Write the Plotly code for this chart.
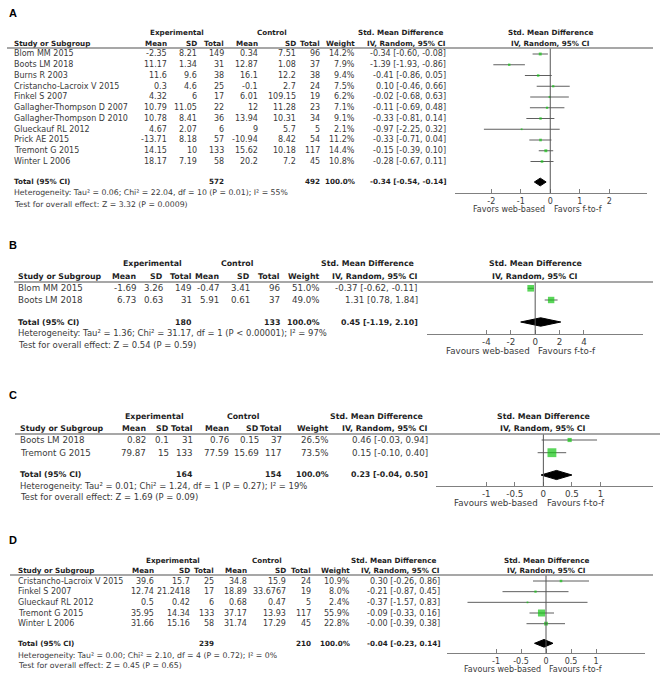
import plotly.graph_objects as go

W, H = 669, 679

# ---------------- DATA ----------------
A_study = ["Blom MM 2015", "Boots LM 2018", "Burns R 2003", "Cristancho-Lacroix V 2015", "Finkel S 2007",
           "Gallagher-Thompson D 2007", "Gallagher-Thompson D 2010", "Glueckauf RL 2012", "Prick AE 2015",
           "Tremont G 2015", "Winter L 2006"]
A_exp_mean = [-2.35, 11.17, 11.6, 0.3, 4.32, 10.79, 10.78, 4.67, -13.71, 14.15, 18.17]
A_exp_sd = [8.21, 1.34, 9.6, 4.6, 6, 11.05, 8.41, 2.07, 8.18, 10, 7.19]
A_exp_n = [149, 31, 38, 25, 17, 22, 36, 6, 57, 133, 58]
A_ctl_mean = [0.34, 12.87, 16.1, -0.1, 6.01, 12, 13.94, 9, -10.94, 15.62, 20.2]
A_ctl_sd = [7.51, 1.08, 12.2, 2.7, 109.15, 11.28, 10.31, 5.7, 8.42, 10.18, 7.2]
A_ctl_n = [96, 37, 38, 24, 19, 23, 34, 5, 54, 117, 45]
A_weight = [14.2, 7.9, 9.4, 7.5, 6.2, 7.1, 9.1, 2.1, 11.2, 14.4, 10.8]
A_smd = [-0.34, -1.39, -0.41, 0.10, -0.02, -0.11, -0.33, -0.97, -0.33, -0.15, -0.28]
A_lo = [-0.60, -1.93, -0.86, -0.46, -0.68, -0.69, -0.81, -2.25, -0.71, -0.39, -0.67]
A_hi = [-0.08, -0.86, 0.05, 0.66, 0.63, 0.48, 0.14, 0.32, 0.04, 0.10, 0.11]
A_total = [572, 492, 100.0, -0.34, -0.54, -0.14]   # exp N, ctl N, weight, SMD, lower, upper
A_het = "Heterogeneity: Tau² = 0.06; Chi² = 22.04, df = 10 (P = 0.01); I² = 55%"
A_test = "Test for overall effect: Z = 3.32 (P = 0.0009)"
A_ticks = [-2, -1, 0, 1, 2]
A_ticklabels = ["-2", "-1", "0", "1", "2"]
A_favours = ["Favors web-based", "Favors f-to-f"]

B_study = ["Blom MM 2015", "Boots LM 2018"]
B_exp_mean = [-1.69, 6.73]
B_exp_sd = [3.26, 0.63]
B_exp_n = [149, 31]
B_ctl_mean = [-0.47, 5.91]
B_ctl_sd = [3.41, 0.61]
B_ctl_n = [96, 37]
B_weight = [51.0, 49.0]
B_smd = [-0.37, 1.31]
B_lo = [-0.62, 0.78]
B_hi = [-0.11, 1.84]
B_total = [180, 133, 100.0, 0.45, -1.19, 2.10]
B_het = "Heterogeneity: Tau² = 1.36; Chi² = 31.17, df = 1 (P < 0.00001); I² = 97%"
B_test = "Test for overall effect: Z = 0.54 (P = 0.59)"
B_ticks = [-4, -2, 0, 2, 4]
B_ticklabels = ["-4", "-2", "0", "2", "4"]
B_favours = ["Favours web-based", "Favours f-to-f"]

C_study = ["Boots LM 2018", "Tremont G 2015"]
C_exp_mean = [0.82, 79.87]
C_exp_sd = [0.1, 15]
C_exp_n = [31, 133]
C_ctl_mean = [0.76, 77.59]
C_ctl_sd = [0.15, 15.69]
C_ctl_n = [37, 117]
C_weight = [26.5, 73.5]
C_smd = [0.46, 0.15]
C_lo = [-0.03, -0.10]
C_hi = [0.94, 0.40]
C_total = [164, 154, 100.0, 0.23, -0.04, 0.50]
C_het = "Heterogeneity: Tau² = 0.01; Chi² = 1.24, df = 1 (P = 0.27); I² = 19%"
C_test = "Test for overall effect: Z = 1.69 (P = 0.09)"
C_ticks = [-1, -0.5, 0, 0.5, 1]
C_ticklabels = ["-1", "-0.5", "0", "0.5", "1"]
C_favours = ["Favours web-based", "Favours f-to-f"]

D_study = ["Cristancho-Lacroix V 2015", "Finkel S 2007", "Glueckauf RL 2012", "Tremont G 2015", "Winter L 2006"]
D_exp_mean = [39.6, 12.74, 0.5, 35.95, 31.66]
D_exp_sd = [15.7, 21.2418, 0.42, 14.34, 15.16]
D_exp_n = [25, 17, 6, 133, 58]
D_ctl_mean = [34.8, 18.89, 0.68, 37.17, 31.74]
D_ctl_sd = [15.9, 33.6767, 0.47, 13.93, 17.29]
D_ctl_n = [24, 19, 5, 117, 45]
D_weight = [10.9, 8.0, 2.4, 55.9, 22.8]
D_smd = [0.30, -0.21, -0.37, -0.09, -0.0]
D_lo = [-0.26, -0.87, -1.57, -0.33, -0.39]
D_hi = [0.86, 0.45, 0.83, 0.16, 0.38]
D_total = [239, 210, 100.0, -0.04, -0.23, 0.14]
D_het = "Heterogeneity: Tau² = 0.00; Chi² = 2.10, df = 4 (P = 0.72); I² = 0%"
D_test = "Test for overall effect: Z = 0.45 (P = 0.65)"
D_ticks = [-1, -0.5, 0, 0.5, 1]
D_ticklabels = ["-1", "-0.5", "0", "0.5", "1"]
D_favours = ["Favours web-based", "Favours f-to-f"]

# ---------------- LAYOUT (pixel geometry) ----------------
A_geo = dict(label_y=13, h1=32, h2=43, rule=48, rule_x=(7, 653), row0=54, step=10.75, total=182,
             het=192, test=204, axis=193, plot_x=(455, 647), xrange=(-3.23, 3.28),
             study=13, em=168, es=198, en=225, cm=259, cs=297, cn=321, w=356, ci=447,
             exp_c=177, ctl_c=272, smd_h=(444, 447), plot_c=550, fav_y=209, fav=(546, 553), fs=8)
B_geo = dict(label_y=245, h1=264, h2=276, rule=282, rule_x=(14, 653), row0=288.3, step=11.7, total=322,
             het=333, test=345, axis=334, plot_x=(427, 643), xrange=(-8.88, 8.85),
             study=17, em=137, es=164, en=193, cm=220, cs=251, cn=281, w=321, ci=419,
             exp_c=152, ctl_c=237, smd_h=(415, 419), plot_c=535, fav_y=351, fav=(531, 537), fs=8.7)
C_geo = dict(label_y=395, h1=416, h2=428, rule=434, rule_x=(15, 660), row0=440, step=12.7, total=475,
             het=486, test=497, axis=486, plot_x=(436, 653), xrange=(-1.88, 1.92),
             study=19, em=147, es=170, en=194, cm=230, cs=260, cn=283, w=330, ci=429,
             exp_c=154, ctl_c=243, smd_h=(424, 429), plot_c=543, fav_y=503, fav=(539, 546), fs=8.7)
D_geo = dict(label_y=540, h1=560, h2=570, rule=575, rule_x=(10, 653), row0=581, step=10.67, total=643.3,
             het=655, test=665, axis=653.3, plot_x=(447, 645), xrange=(-1.98, 1.98),
             study=17, em=155, es=191, en=215, cm=248, cs=287, cn=312, w=351, ci=441,
             exp_c=173, ctl_c=267, smd_h=(437, 441), plot_c=546, fav_y=669, fav=(542, 548), fs=8)

FONT = "DejaVu Sans"
TXT = "#3a3a3a"
HDR = "#1e1e1e"
GREEN = "#14c414"
LINEC = "#5f5f5f"


def px(x):
    return x / W


def py(y):
    return 1 - y / H


def fmt(v):
    return f"{v:g}"


def ci_str(e, l, h):
    return f"{e:.2f} [{l:.2f}, {h:.2f}]"


fig = go.Figure()
annotations = []
shapes = []
axes = {}

panels = [
    ("A", A_geo, A_study, A_exp_mean, A_exp_sd, A_exp_n, A_ctl_mean, A_ctl_sd, A_ctl_n, A_weight,
     A_smd, A_lo, A_hi, A_total, A_het, A_test, A_ticks, A_ticklabels, A_favours),
    ("B", B_geo, B_study, B_exp_mean, B_exp_sd, B_exp_n, B_ctl_mean, B_ctl_sd, B_ctl_n, B_weight,
     B_smd, B_lo, B_hi, B_total, B_het, B_test, B_ticks, B_ticklabels, B_favours),
    ("C", C_geo, C_study, C_exp_mean, C_exp_sd, C_exp_n, C_ctl_mean, C_ctl_sd, C_ctl_n, C_weight,
     C_smd, C_lo, C_hi, C_total, C_het, C_test, C_ticks, C_ticklabels, C_favours),
    ("D", D_geo, D_study, D_exp_mean, D_exp_sd, D_exp_n, D_ctl_mean, D_ctl_sd, D_ctl_n, D_weight,
     D_smd, D_lo, D_hi, D_total, D_het, D_test, D_ticks, D_ticklabels, D_favours),
]


def txt(x, y, s, fs, anchor="right", bold=False, yref="paper", color=None):
    annotations.append(dict(
        x=x, y=y, xref="paper", yref=yref, text=f"<b>{s}</b>" if bold else s,
        showarrow=False, xanchor=anchor, yanchor="middle", borderpad=0,
        font=dict(family=FONT, size=fs * (0.9 if bold else 1), color=color or (HDR if bold else TXT)),
    ))


for k, (letter, g, study, em, es, en, cm, cs, cn, wt, smd, lo, hi, tot, het, test, ticks, tlab, fav) in enumerate(panels):
    n = k + 1
    xa = "x" if n == 1 else f"x{n}"
    ya = "y" if n == 1 else f"y{n}"
    xkey = "xaxis" if n == 1 else f"xaxis{n}"
    ykey = "yaxis" if n == 1 else f"yaxis{n}"
    fs = g["fs"]
    nrow = len(study)
    rows = list(range(nrow))
    total_row = (g["total"] - g["row0"]) / g["step"]

    axes[xkey] = dict(domain=[px(g["plot_x"][0]), px(g["plot_x"][1])], range=list(g["xrange"]),
                      anchor=ya, showgrid=False, zeroline=False, showline=True, linecolor="#808080",
                      linewidth=1, ticks="inside", ticklen=4, tickcolor="#808080", tickwidth=1,
                      tickvals=ticks, ticktext=tlab, tickfont=dict(family=FONT, size=fs, color=TXT),
                      fixedrange=True)
    axes[ykey] = dict(domain=[py(g["axis"]), py(g["rule"])],
                      range=[(g["axis"] - g["row0"]) / g["step"], (g["rule"] - g["row0"]) / g["step"]],
                      anchor=xa, visible=False, showgrid=False, zeroline=False, fixedrange=True)

    # zero line
    shapes.append(dict(type="line", xref=xa, yref=f"{ya} domain", x0=0, x1=0, y0=0, y1=1,
                       line=dict(color="#555555", width=1)))
    # header rule
    shapes.append(dict(type="line", xref="paper", yref="paper", x0=px(g["rule_x"][0]), x1=px(g["rule_x"][1]),
                       y0=py(g["rule"]), y1=py(g["rule"]), line=dict(color="#8a8a8a", width=1.5)))

    # CI lines
    cx, cy = [], []
    for i in rows:
        cx += [lo[i], hi[i], None]
        cy += [i, i, None]
    fig.add_trace(go.Scatter(x=cx, y=cy, xaxis=xa, yaxis=ya, mode="lines",
                             line=dict(color=LINEC, width=1), hoverinfo="skip", showlegend=False))
    # squares
    fig.add_trace(go.Scatter(x=smd, y=rows, xaxis=xa, yaxis=ya, mode="markers",
                             marker=dict(symbol="square", size=[1.5 + 0.1 * w for w in wt], color=GREEN,
                                         line=dict(width=0)),
                             showlegend=False))
    # diamond
    tw, e, l, h = tot[2], tot[3], tot[4], tot[5]
    dh = 0.36
    fig.add_trace(go.Scatter(x=[l, e, h, e, l], y=[total_row, total_row - dh, total_row, total_row + dh, total_row],
                             xaxis=xa, yaxis=ya, mode="lines", fill="toself", fillcolor="black",
                             line=dict(color="black", width=1), showlegend=False))

    # panel letter
    annotations.append(dict(x=px(8), y=py(g["label_y"]), xref="paper", yref="paper", text=f"<b>{letter}</b>",
                            showarrow=False, xanchor="left", yanchor="middle", borderpad=0,
                            font=dict(family="Liberation Sans", size=11, color="black")))
    # headers
    txt(px(g["exp_c"]), py(g["h1"]), "Experimental", fs, "center", True)
    txt(px(g["ctl_c"]), py(g["h1"]), "Control", fs, "center", True)
    txt(px(g["smd_h"][0]), py(g["h1"]), "Std. Mean Difference", fs, "right", True)
    txt(px(g["plot_c"]), py(g["h1"]), "Std. Mean Difference", fs, "center", True)
    txt(px(g["study"]), py(g["h2"]), "Study or Subgroup", fs, "left", True)
    for col, lab in [("em", "Mean"), ("es", "SD"), ("en", "Total"), ("cm", "Mean"), ("cs", "SD"),
                     ("cn", "Total"), ("w", "Weight")]:
        txt(px(g[col]), py(g["h2"]), lab, fs, "right", True)
    txt(px(g["smd_h"][1]), py(g["h2"]), "IV, Random, 95% CI", fs, "right", True)
    txt(px(g["plot_c"]), py(g["h2"]), "IV, Random, 95% CI", fs, "center", True)

    # rows
    for i in rows:
        txt(px(g["study"]), i, study[i], fs, "left", yref=ya)
        for col, arr in [("em", em), ("es", es), ("en", en), ("cm", cm), ("cs", cs), ("cn", cn)]:
            txt(px(g[col]), i, fmt(arr[i]), fs, "right", yref=ya)
        txt(px(g["w"]), i, f"{wt[i]:.1f}%", fs, "right", yref=ya)
        txt(px(g["ci"]), i, ci_str(smd[i], lo[i], hi[i]), fs, "right", yref=ya)

    # total row
    txt(px(g["study"]), total_row, "Total (95% CI)", fs, "left", True, yref=ya)
    txt(px(g["en"]), total_row, fmt(tot[0]), fs, "right", True, yref=ya)
    txt(px(g["cn"]), total_row, fmt(tot[1]), fs, "right", True, yref=ya)
    txt(px(g["w"]), total_row, f"{tw:.1f}%", fs, "right", True, yref=ya)
    txt(px(g["ci"]), total_row, ci_str(e, l, h), fs, "right", True, yref=ya)
    txt(px(g["study"]), py(g["het"]), het, fs - 0.25, "left")
    txt(px(g["study"]), py(g["test"]), test, fs - 0.25, "left")

    # favours labels
    txt(px(g["fav"][0]), py(g["fav_y"]), fav[0], fs, "right")
    txt(px(g["fav"][1]), py(g["fav_y"]), fav[1], fs, "left")

fig.update_layout(width=W, height=H, margin=dict(l=0, r=0, t=0, b=0), paper_bgcolor="white",
                  plot_bgcolor="rgba(0,0,0,0)", showlegend=False, annotations=annotations, shapes=shapes,
                  **axes)

fig.write_html("out.html", config={"displayModeBar": False},
               post_script="document.body.style.margin='0';document.body.style.overflow='hidden';")
